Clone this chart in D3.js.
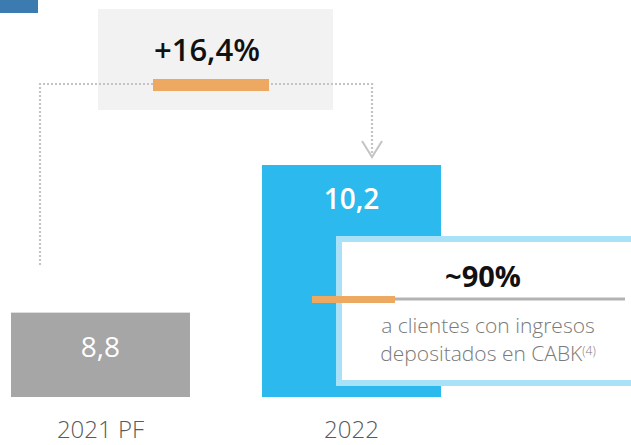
<!DOCTYPE html>
<html>
<head>
<meta charset="utf-8">
<script src="https://cdn.jsdelivr.net/npm/d3@7"></script>
<style>
  html, body { margin: 0; padding: 0; background: #ffffff; }
  svg { display: block; }
  text { font-family: "Open Sans", "Noto Sans", sans-serif; }
</style>
</head>
<body>
<svg id="chart" width="631" height="445"></svg>
<script>
const categories = ["2021 PF", "2022"];
const values = [8.8, 10.2];
const valueLabels = ["8,8", "10,2"];
const growthLabel = "+16,4%";
const shareLabel = "~90%";
const shareText = ["a clientes con ingresos", "depositados en CABK"];
const shareSup = "(4)";

const svg = d3.select("#chart");

const x = d3.scaleBand().domain(categories).range([11, 441]).paddingInner(0.287).paddingOuter(0);
const y = d3.scaleLinear().domain([8.0, 10.2]).range([397, 165]);

const colors = ["#a6a6a6", "#2bb9ee"];

// top-left accent
svg.append("rect").attr("x", 0).attr("y", 0).attr("width", 38).attr("height", 13).attr("fill", "#3b7bb0");

// growth box
svg.append("rect").attr("x", 98).attr("y", 9).attr("width", 235).attr("height", 101).attr("fill", "#f2f2f2");

// dotted connector
const dotColor = "#c4c4c4";
const cx0 = x(categories[0]) + 29, cx1 = x(categories[1]) + 110;
svg.append("path")
  .attr("d", `M${cx0},265 L${cx0},84 L${cx1},84 L${cx1},154`)
  .attr("fill", "none").attr("stroke", dotColor).attr("stroke-width", 2.2)
  .attr("stroke-dasharray", "2,2");
svg.append("path")
  .attr("d", `M${cx1 - 10},141 L${cx1},157 L${cx1 + 10},141`)
  .attr("fill", "none").attr("stroke", dotColor).attr("stroke-width", 2);

// growth label
svg.append("text").attr("x", 207).attr("y", 61).attr("text-anchor", "middle")
  .attr("font-size", 31).attr("font-weight", 600).attr("fill", "#111").text(growthLabel);
svg.append("rect").attr("x", 153).attr("y", 79).attr("width", 116).attr("height", 12).attr("fill", "#eda862");

// bars
svg.selectAll("rect.bar").data(values).enter().append("rect")
  .attr("class", "bar")
  .attr("x", (d, i) => x(categories[i]))
  .attr("y", d => y(d))
  .attr("width", x.bandwidth())
  .attr("height", d => y.range()[0] - y(d))
  .attr("fill", (d, i) => colors[i]);

// value labels
svg.append("text").attr("x", x(categories[0]) + x.bandwidth() / 2).attr("y", y(values[0]) + 44)
  .attr("text-anchor", "middle").attr("font-size", 28).attr("font-weight", 400).attr("fill", "#fff").text(valueLabels[0]);
svg.append("text").attr("x", x(categories[1]) + x.bandwidth() / 2).attr("y", y(values[1]) + 44)
  .attr("text-anchor", "middle").attr("font-size", 28).attr("font-weight", 600).attr("fill", "#fff").text(valueLabels[1]);

// category labels
svg.selectAll("text.cat").data(categories).enter().append("text")
  .attr("class", "cat")
  .attr("x", d => x(d) + x.bandwidth() / 2)
  .attr("y", 438)
  .attr("text-anchor", "middle")
  .attr("font-size", 24).attr("font-weight", 300).attr("fill", "#595959")
  .text(d => d);

// inset box
svg.append("rect").attr("x", 339).attr("y", 239).attr("width", 320).attr("height", 144)
  .attr("fill", "#fff").attr("stroke", "#a9e2f8").attr("stroke-width", 6);

svg.append("text").attr("x", 483).attr("y", 287).attr("text-anchor", "middle")
  .attr("font-size", 29).attr("font-weight", 700).attr("fill", "#111").text(shareLabel);
svg.append("rect").attr("x", 312).attr("y", 297.5).attr("width", 313).attr("height", 3).attr("fill", "#b3b3b3");
svg.append("rect").attr("x", 312).attr("y", 296).attr("width", 83).attr("height", 7).attr("fill", "#eda862");

svg.append("text").attr("x", 488).attr("y", 333).attr("text-anchor", "middle")
  .attr("font-size", 21).attr("font-weight", 300).attr("fill", "#7a7a7a").text(shareText[0]);
const t2 = svg.append("text").attr("x", 488).attr("y", 361).attr("text-anchor", "middle")
  .attr("font-size", 21).attr("font-weight", 300).attr("fill", "#7a7a7a");
t2.append("tspan").text(shareText[1]);
t2.append("tspan").attr("font-size", 12).attr("dy", -6).text(shareSup);
</script>
</body>
</html>
